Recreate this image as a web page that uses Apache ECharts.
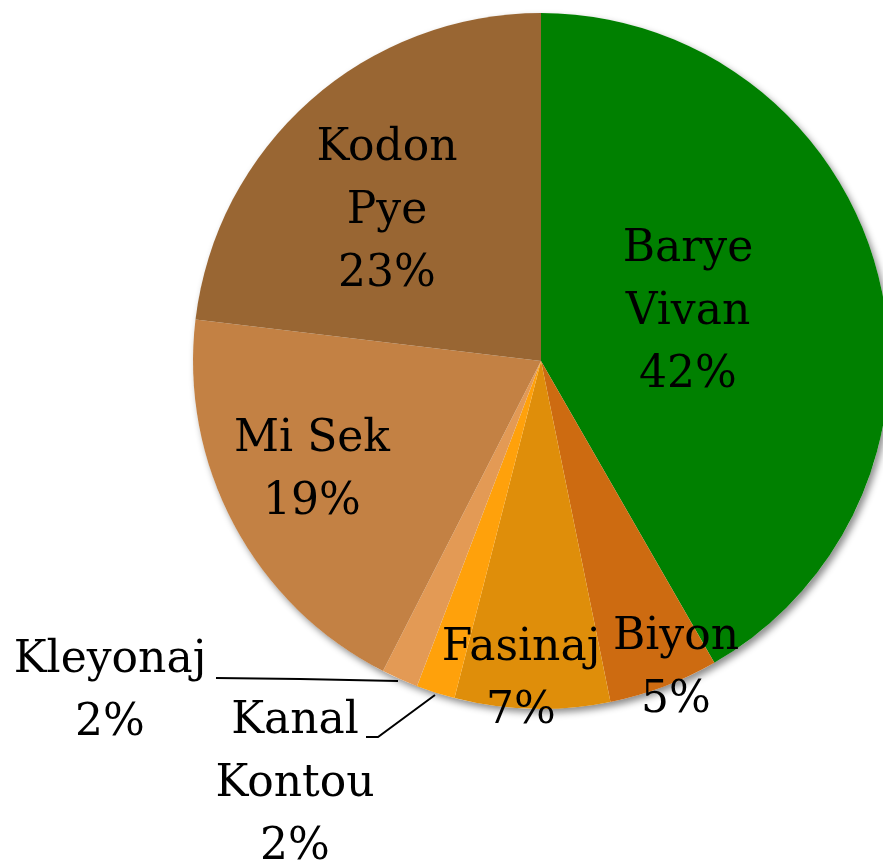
<!DOCTYPE html>
<html>
<head>
<meta charset="utf-8">
<script src="https://cdn.jsdelivr.net/npm/echarts@6/dist/echarts.min.js"></script>
<style>
  html, body { margin: 0; padding: 0; background: #fff; }
  #chart-container { width: 883px; height: 867px; }
</style>
</head>
<body>
<div id="chart-container"></div>
<script>
const names = ['Barye\nVivan', 'Biyon', 'Fasinaj', 'Kanal\nKontou', 'Kleyonaj', 'Mi Sek', 'Kodon\nPye'];
const values = [41.7, 5.1, 7.2, 1.8, 1.7, 19.4, 23.1];
const colors = ['#008000', '#cd6b11', '#df8e0a', '#ffa10b', '#e39a55', '#c38144', '#996633'];

// where each label sits (centre of text block), Excel-style manual placement
const labelSpots = [
  [688, 313], [676, 669], [521, 680], [295, 785], [110, 692], [312, 471], [387, 212]
];
const leaderLines = {
  3: [[435, 695], [378, 737], [366, 737]],
  4: [[398, 681], [300, 679], [216, 678]]
};

const start = () => {
  const chartDom = document.getElementById('chart-container');
  const myChart = echarts.init(chartDom, null, { renderer: 'canvas' });
  const pieCenter = [541, 361];
  const pieRadius = 348;
  const option = {
    animation: false,
    series: [
      // plain disc underneath, only to cast the drop shadow of the whole pie
      {
        type: 'pie',
        silent: true,
        z: 1,
        center: pieCenter,
        radius: pieRadius,
        data: [{ value: 1, name: '' }],
        label: { show: false },
        labelLine: { show: false },
        itemStyle: {
          color: '#ffffff',
          shadowBlur: 7,
          shadowColor: 'rgba(0,0,0,0.45)',
          shadowOffsetX: 3,
          shadowOffsetY: 4
        }
      },
      {
        type: 'pie',
        z: 2,
        center: pieCenter,
        radius: pieRadius,
        startAngle: 90,
        clockwise: true,
        avoidLabelOverlap: false,
        data: names.map((n, i) => ({
          name: n,
          value: values[i],
          itemStyle: { color: colors[i] },
          label: leaderLines[i] ? { position: 'outside' } : { position: 'inside' },
          labelLine: { show: !!leaderLines[i] }
        })),
        label: {
          show: true,
          formatter: p => p.name + '\n' + Math.round(p.percent) + '%',
          fontFamily: 'DejaVu Serif',
          fontSize: 44,
          lineHeight: 63,
          color: '#000',
          align: 'center'
        },
        labelLine: {
          lineStyle: { color: '#000', width: 2 }
        },
        labelLayout: p => {
          const s = labelSpots[p.dataIndex];
          const out = { x: s[0], y: s[1], align: 'center', verticalAlign: 'middle' };
          if (leaderLines[p.dataIndex]) out.labelLinePoints = leaderLines[p.dataIndex];
          return out;
        }
      }
    ]
  };
  myChart.setOption(option);
};

start();
</script>
</body>
</html>
